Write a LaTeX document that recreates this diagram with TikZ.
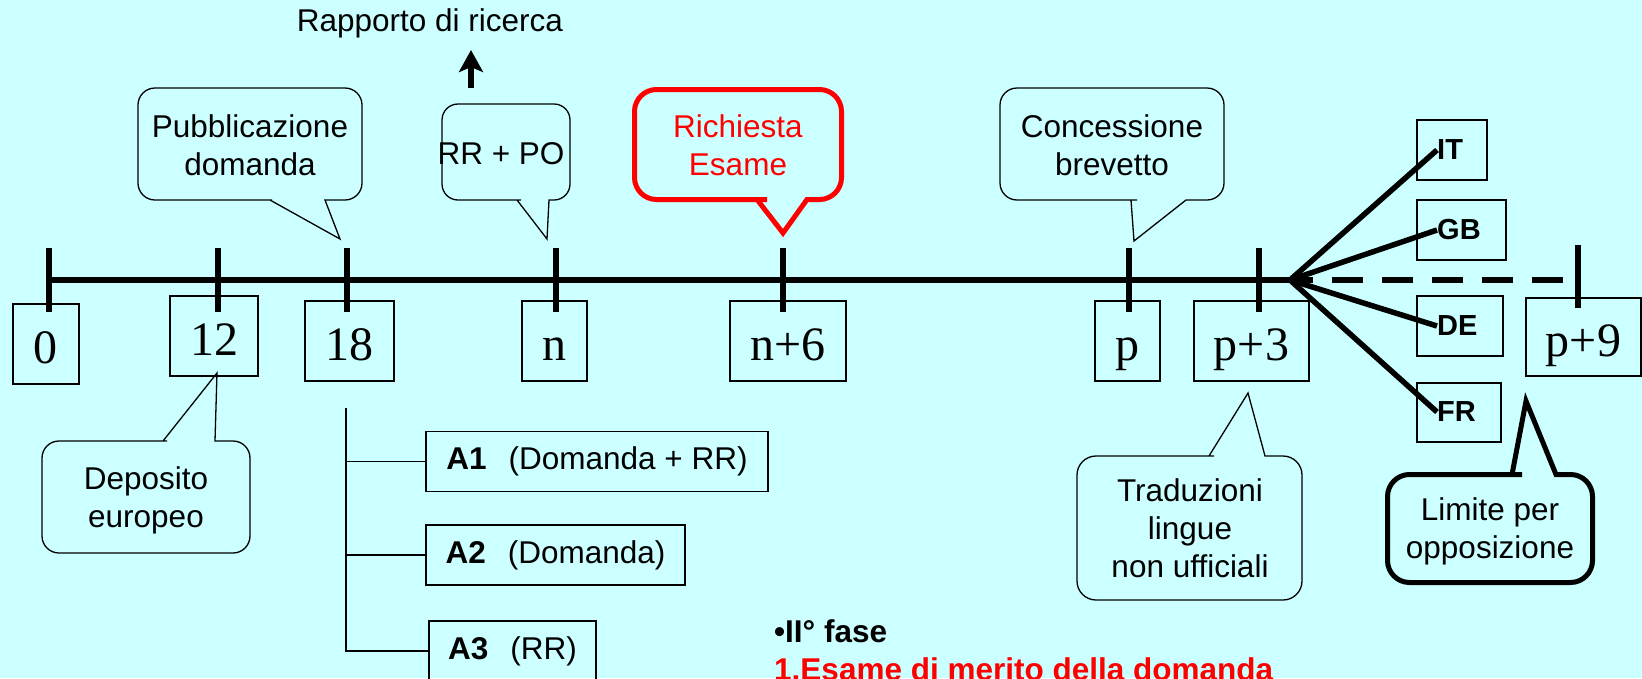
\documentclass[tikz,border=0pt]{standalone}
\usepackage{fontspec}
\setmainfont{Liberation Sans}
\newfontfamily\serifnum{Liberation Serif}
\usetikzlibrary{arrows.meta,calc}
\definecolor{bgcyan}{RGB}{204,255,255}
\definecolor{pptred}{RGB}{255,0,0}
\begin{document}
\begin{tikzpicture}[x=1pt,y=-1pt,
  numbox/.style={draw, line width=1.3pt, inner sep=0pt, minimum height=80pt, text height=39pt, text depth=1pt, font=\serifnum\fontsize{48pt}{52pt}\selectfont},
  cbox/.style={draw, line width=1.3pt, inner sep=0pt},
  clab/.style={font=\bfseries\fontsize{29pt}{34pt}\selectfont, inner sep=0pt, anchor=west},
  ctext/.style={align=center, inner sep=0pt, font=\fontsize{31.5pt}{38pt}\selectfont},
  thinline/.style={line width=1.3pt},
  callthin/.style={draw, line width=1.3pt},
  callthick/.style={draw, line width=5pt},
  tickline/.style={line width=6pt},
  axisline/.style={line width=6pt},
  fanline/.style={line width=5.5pt},
  abox/.style={draw, line width=1.3pt, minimum height=60pt, inner sep=0pt, font=\fontsize{31.5pt}{38pt}\selectfont},
  bodytext/.style={anchor=base west, inner sep=0pt, font=\bfseries\fontsize{31.5pt}{38pt}\selectfont}
]
\useasboundingbox (0,0) rectangle (1642,678);
\fill[bgcyan] (0,0) rectangle (1642,678);

% title and arrow
\node[ctext] (rapp) at (430,23.5) {Rapporto di ricerca};
\coordinate (arrbase) at (471,88);
\coordinate (arrtip) at (471,50);
\draw[line width=5.5pt, -{Stealth[length=22pt,width=24pt,inset=5pt]}] (arrbase) -- (arrtip);

% callouts (upper)
\draw[callthin] (340,239) -- (325,200) -- (340,200) [rounded corners=17pt] -- (362,200) -- (362,88) -- (138,88) -- (138,200) -- (255,200) [sharp corners] -- (270,200) -- cycle;
\node[ctext] (pub) at (250,145) {Pubblicazione\\domanda};

\draw[callthin] (547,239) -- (549,200) -- (552,200) [rounded corners=16pt] -- (570,200) -- (570,104) -- (442,104) -- (442,200) -- (505,200) [sharp corners] -- (517,200) -- cycle;
\node[ctext] (rrpo) at (501,153.5) {RR + PO};

\draw[callthick, pptred] (783,233) -- (807,199.5) -- (815,199.5) [rounded corners=22pt] -- (841.5,199.5) -- (841.5,89.5) -- (634.5,89.5) -- (634.5,199.5) -- (745,199.5) [sharp corners] -- (757,199.5) -- cycle;
\node[ctext, text=pptred] (rich) at (738,145) {Richiesta\\Esame};

\draw[callthin] (1134,241) -- (1186,200) -- (1200,200) [rounded corners=17pt] -- (1224,200) -- (1224,88) -- (1000,88) -- (1000,200) -- (1120,200) [sharp corners] -- (1131,200) -- cycle;
\node[ctext] (conc) at (1112,145) {Concessione\\brevetto};

% number boxes
\node[numbox, minimum width=66pt] (n0) at (46,344) {0};
\node[numbox, minimum width=88pt] (n12) at (214,336) {12};
\node[numbox, minimum width=89pt] (n18) at (349.5,341) {18};
\node[numbox, minimum width=65pt] (nn) at (554.5,341) {n};
\node[numbox, minimum width=116pt] (nn6) at (788,341) {n+6};
\node[numbox, minimum width=65pt] (np) at (1127.5,341) {p};
\node[numbox, minimum width=115pt] (np3) at (1251.5,341) {p+3};
\node[numbox, minimum width=115pt, minimum height=78pt] (np9) at (1583.5,337) {p+9};

% country boxes
\node[cbox, minimum width=70pt, minimum height=60pt] (ITb) at (1452,150) {};
\node[cbox, minimum width=89pt, minimum height=60pt] (GBb) at (1461.5,230) {};
\node[cbox, minimum width=86pt, minimum height=60pt] (DEb) at (1460,326) {};
\node[cbox, minimum width=84pt, minimum height=59pt] (FRb) at (1459,412.5) {};
\node[clab] (IT) at (1437,150) {IT};
\node[clab] (GB) at (1437,230) {GB};
\node[clab] (DE) at (1437,326) {DE};
\node[clab] (FR) at (1437,412) {FR};

% timeline
\coordinate (t0) at (49,280);
\coordinate (t12) at (218,280);
\coordinate (t18) at (347,280);
\coordinate (tn) at (556,280);
\coordinate (tn6) at (783,280);
\coordinate (tp) at (1129,280);
\coordinate (tp3) at (1259,280);
\coordinate (tp9) at (1578,280);
\coordinate (fan) at (1290,280);
\draw[axisline] (t0) -- (fan);
\draw[axisline, dash pattern=on 31pt off 19pt, dash phase=8pt] (fan) -- (tp9);
\foreach \t in {t0,t12,t18,tn,tn6,tp,tp3}
  \draw[tickline] ($(\t)+(0,-32)$) -- ($(\t)+(0,32)$);
\draw[tickline] ($(tp9)+(0,-35)$) -- ($(tp9)+(0,28)$);

% fan
\draw[fanline] (fan) -- (IT.west);
\draw[fanline] (fan) -- (GB.west);
\draw[fanline] (fan) -- (DE.west);
\draw[fanline] (fan) -- (FR.west);

% lower callouts
\draw[callthin] (217,373) -- (215,441) -- (225,441) [rounded corners=17pt] -- (250,441) -- (250,553) -- (42,553) -- (42,441) -- (150,441) [sharp corners] -- (163,441) -- cycle;
\node[ctext] (dep) at (146,500) {Deposito\\europeo};

\draw[callthin] (1248,393) -- (1265,456) -- (1275,456) [rounded corners=19pt] -- (1302,456) -- (1302,600) -- (1077,600) -- (1077,456) -- (1195,456) [sharp corners] -- (1209,456) -- cycle;
\node[ctext] (trad) at (1190,528) {Traduzioni\\lingue\\non ufficiali};

\draw[callthick] (1526,401) -- (1556,474.5) -- (1566,474.5) [rounded corners=22pt] -- (1592.5,474.5) -- (1592.5,582.5) -- (1387.5,582.5) -- (1387.5,474.5) -- (1500,474.5) [sharp corners] -- (1512,474.5) -- cycle;
\node[ctext] (lim) at (1490,531.5) {Limite per\\opposizione};

% publication types
\node[abox, minimum width=342pt] (A1) at (597,461.5) {\textbf{A1}\hspace{22pt}(Domanda + RR)};
\node[abox, minimum width=259pt] (A2) at (555.5,555) {\textbf{A2}\hspace{22pt}(Domanda)};
\node[abox, minimum width=167pt] (A3) at (512.5,651) {\textbf{A3}\hspace{22pt}(RR)};
\coordinate (brk) at (346,408);
\draw[thinline] (brk) |- (A3.west);
\draw[thinline] (brk |- A1.west) -- (A1.west);
\draw[thinline] (brk |- A2.west) -- (A2.west);

% phase text
\node[bodytext] (fase) at (774,642) {•II° fase};
\node[bodytext, text=pptred] (esame) at (774,680) {1.Esame di merito della domanda};
\end{tikzpicture}
\end{document}
